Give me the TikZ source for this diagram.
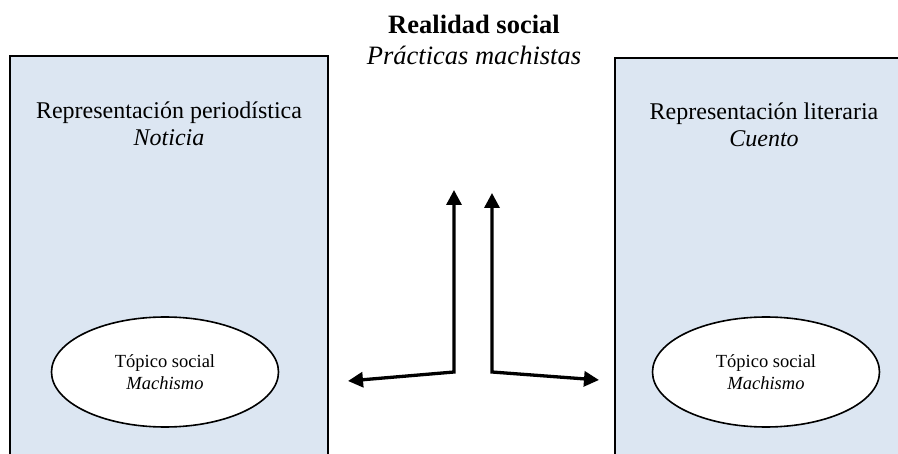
\documentclass[tikz,border=0pt]{standalone}
\usepackage{fontspec}
\setmainfont{Liberation Serif}
\usetikzlibrary{arrows.meta,shapes.geometric}
\definecolor{panelblue}{HTML}{DCE6F2}

\begin{document}
\begin{tikzpicture}[
  x=1pt,
  y=-1pt,
  panel/.style={draw=black, line width=1.3pt, fill=panelblue},
  heading/.style={align=center, inner sep=0pt, font=\fontsize{24}{27}\selectfont},
  title/.style={align=center, inner sep=0pt, font=\fontsize{26.5}{31}\selectfont},
  topic/.style={ellipse, draw=black, line width=1.6pt, fill=white,
    minimum width=227pt, minimum height=110pt, inner sep=0pt,
    align=center, font=\fontsize{18.5}{22}\selectfont},
  link/.style={line width=3.3pt,
    {Triangle[length=15pt,width=15pt]}-{Triangle[length=15pt,width=15pt]}}
]
\useasboundingbox (0,0) rectangle (898,454);
\clip (0,0) rectangle (898,454);

% the two panels, cut off at the page edge
\draw[panel] (10,56) rectangle (328,480);
\draw[panel] (615,58) rectangle (920,480);

% headings (base = last line)
\node[title, anchor=base] (reality) at (474,65)
  {\textbf{Realidad social}\\\textit{Prácticas machistas}};
\node[heading, anchor=base] (press) at (169,146)
  {Representación periodística\\\textit{Noticia}};
\node[heading, anchor=base] (story) at (764,147)
  {Representación literaria\\\textit{Cuento}};

% topics
\node[topic] (topicL) at (165,372) {Tópico social\\\textit{Machismo}};
\node[topic] (topicR) at (766,372) {Tópico social\\\textit{Machismo}};

% arrows
\coordinate (upL) at (454,190);
\coordinate (cornerL) at (454,372);
\coordinate (sideL) at (348,381);
\coordinate (upR) at (492,193);
\coordinate (cornerR) at (492,372);
\coordinate (sideR) at (599,380);
\draw[link] (upL) -- (cornerL) -- (sideL);
\draw[link] (upR) -- (cornerR) -- (sideR);
\end{tikzpicture}
\end{document}
